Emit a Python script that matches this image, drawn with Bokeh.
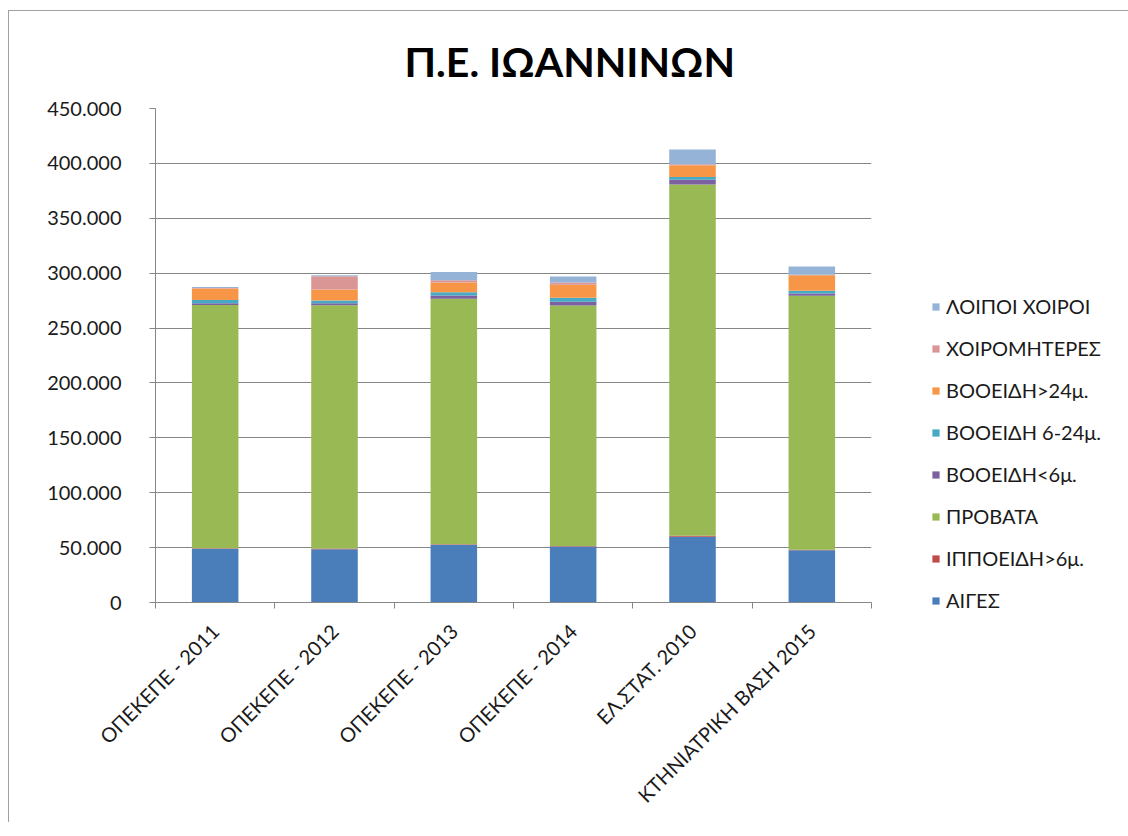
import math
from bokeh.plotting import figure
from bokeh.models import (ColumnDataSource, Range1d, LinearAxis, FixedTicker,
                          Legend, LegendItem, Title)
from bokeh.embed import file_html
from bokeh.resources import INLINE

# ---------------- data ----------------
categories = ["ΟΠΕΚΕΠΕ - 2011", "ΟΠΕΚΕΠΕ - 2012", "ΟΠΕΚΕΠΕ - 2013",
              "ΟΠΕΚΕΠΕ - 2014", "ΕΛ.ΣΤΑΤ. 2010", "ΚΤΗΝΙΑΤΡΙΚΗ ΒΑΣΗ 2015"]

series_names = ["ΑΙΓΕΣ", "ΙΠΠΟΕΙΔΗ>6μ.", "ΠΡΟΒΑΤΑ", "ΒΟΟΕΙΔΗ<6μ.",
                "ΒΟΟΕΙΔΗ 6-24μ.", "ΒΟΟΕΙΔΗ>24μ.", "ΧΟΙΡΟΜΗΤΕΡΕΣ", "ΛΟΙΠΟΙ ΧΟΙΡΟΙ"]

aiges        = [49000, 48500, 52500, 51000, 60000, 47500]
ippoeidi     = [500, 700, 600, 500, 800, 500]
provata      = [221500, 221500, 223500, 219000, 320000, 231500]
vooeidi_lt6  = [1500, 2000, 3000, 3500, 4300, 2000]
vooeidi_6_24 = [3000, 2500, 3000, 3500, 2500, 2500]
vooeidi_gt24 = [10500, 10000, 9000, 12000, 10600, 14000]
xoiromiteres = [500, 12000, 2000, 2000, 1000, 500]
loipoi       = [1000, 1000, 7500, 5500, 13500, 7500]

y_ticks = list(range(0, 450001, 50000))

colors = ["#4A7EBB", "#BE4B48", "#98B954", "#7D60A0",
          "#46AAC5", "#F79646", "#D99694", "#95B3D7"]

# ---------------- figure ----------------
keys = ["s0", "s1", "s2", "s3", "s4", "s5", "s6", "s7"]
data = dict(x=[i + 0.5 for i in range(len(categories))])
for k, vals in zip(keys, [aiges, ippoeidi, provata, vooeidi_lt6, vooeidi_6_24,
                          vooeidi_gt24, xoiromiteres, loipoi]):
    data[k] = vals
source = ColumnDataSource(data)

FONT = "Lato"

p = figure(frame_width=716, frame_height=494,
           x_range=Range1d(0, len(categories)), y_range=Range1d(0, 450000),
           x_axis_location=None, y_axis_location="left",
           output_backend="svg", toolbar_location=None,
           min_border_left=146, min_border_right=248,
           min_border_top=97, min_border_bottom=220,
           background_fill_color="white", border_fill_color="white")
p.outline_line_color = None
p.styles = {"margin-left": "8px", "margin-top": "10px",
            "border-left": "1px solid #a0a0a0", "border-top": "1px solid #a0a0a0"}

renderers = p.vbar_stack(keys, x="x", width=0.39, source=source,
                         color=colors, line_color=None)

# title
p.title = Title(text="Π.Ε. ΙΩΑΝΝΙΝΩΝ", text_font=FONT, text_font_size="41px",
                text_font_style="bold", text_color="#000000", align="left",
                offset=249, standoff=45)

# y axis
ya = p.yaxis[0]
ya.ticker = FixedTicker(ticks=y_ticks)
ya.major_label_overrides = {t: ("0" if t == 0 else f"{t // 1000}.000") for t in y_ticks}
ya.major_label_text_font = FONT
ya.major_label_text_font_size = "20px"
ya.major_label_text_color = "#1a1a1a"
ya.major_tick_out = 6
ya.major_tick_in = 0
ya.minor_tick_line_color = None
ya.axis_line_color = "#868686"
ya.major_tick_line_color = "#868686"
ya.major_label_standoff = 28

p.ygrid.ticker = FixedTicker(ticks=y_ticks)
p.ygrid.grid_line_color = "#868686"
p.xgrid.grid_line_color = None

# x axis: labels at category centres, minor ticks at category boundaries
xa = LinearAxis(ticker=FixedTicker(ticks=[i + 0.5 for i in range(len(categories))],
                                   minor_ticks=list(range(len(categories) + 1))),
                major_label_overrides={i + 0.5: c for i, c in enumerate(categories)},
                major_label_orientation=math.pi / 4,
                major_label_text_font=FONT, major_label_text_font_size="20px",
                major_label_text_color="#1a1a1a",
                major_label_standoff=19,
                major_tick_line_color=None,
                minor_tick_out=6, minor_tick_in=0, minor_tick_line_color="#868686",
                axis_line_color="#868686")
p.add_layout(xa, "below")

# legend (reverse order: top item is last series)
items = [LegendItem(label=n, renderers=[r]) for n, r in zip(series_names, renderers)]
legend = Legend(items=list(reversed(items)), location=(60, -10),
                glyph_width=9, glyph_height=9, label_height=24, spacing=18,
                label_standoff=6, padding=0, margin=0,
                label_text_font=FONT, label_text_font_size="20px",
                label_text_color="#1a1a1a",
                border_line_color=None, background_fill_alpha=0)
p.add_layout(legend, "right")

open("out.html", "w").write(file_html(p, INLINE))
